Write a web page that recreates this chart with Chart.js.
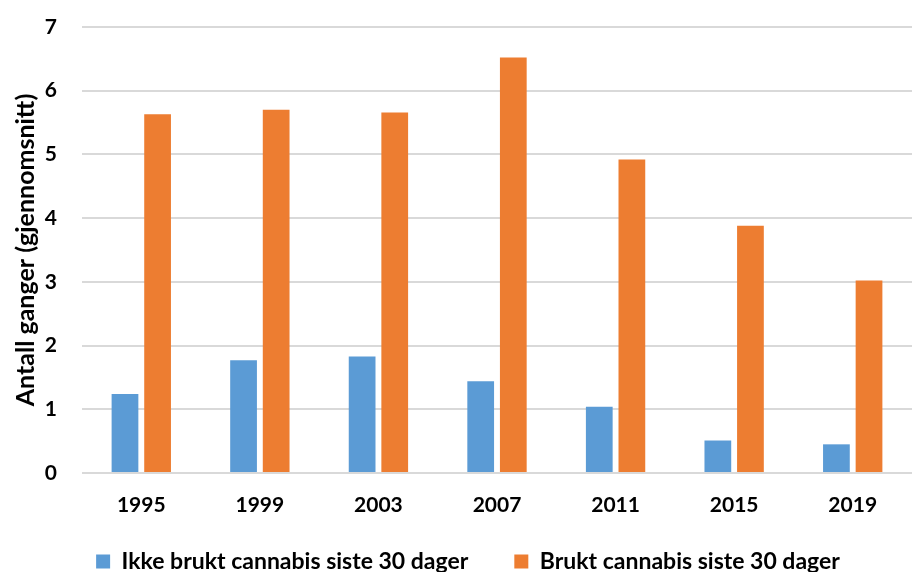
<!DOCTYPE html>
<html>
<head>
<meta charset="utf-8">
<script src="https://cdn.jsdelivr.net/npm/chart.js@4"></script>
<style>
  html, body { margin: 0; padding: 0; background: #fff; }
  #wrap { width: 912px; height: 572px; }
</style>
</head>
<body>
<div id="wrap"><canvas id="myChart"></canvas></div>
<script>
// data
const years = ["1995", "1999", "2003", "2007", "2011", "2015", "2019"];
const ikkeBrukt = [1.24, 1.77, 1.83, 1.44, 1.04, 0.51, 0.45];
const brukt = [5.63, 5.70, 5.66, 6.52, 4.92, 3.88, 3.02];
const yTicks = [0, 1, 2, 3, 4, 5, 6, 7];

const font = "Lato, 'Open Sans', sans-serif";

// legend labels padding is used both for the gap between items and vertically;
// keep the wide gap but give the legend a small box, then stretch its top up a bit
const legendHeight = {
  id: "legendHeight",
  beforeInit(chart) {
    const legend = chart.legend;
    if (!legend) return;
    const fit = legend.fit;
    legend.fit = function () {
      fit.call(this);
      this.height = 55;
    };
  },
  afterLayout(chart) {
    if (!chart.legend) return;
    chart.legend.top -= 13;
    // the reference legend sits a little right of centre
    chart.legend.left += 12;
    chart.legend.right += 12;
  },
};

const ctx = document.getElementById("myChart").getContext("2d");
const chart = new Chart(ctx, {
  type: "bar",
  data: {
    labels: years,
    datasets: [
      {
        label: "Ikke brukt cannabis siste 30 dager",
        data: ikkeBrukt,
        backgroundColor: "#5B9BD5",
        barPercentage: 0.82,
        categoryPercentage: 0.55,
      },
      {
        label: "Brukt cannabis siste 30 dager",
        data: brukt,
        backgroundColor: "#ED7D31",
        barPercentage: 0.82,
        categoryPercentage: 0.55,
      },
    ],
  },
  plugins: [legendHeight],
  options: {
    responsive: true,
    maintainAspectRatio: false,
    animation: false,
    layout: { padding: 0 },
    plugins: {
      legend: {
        position: "bottom",
        labels: {
          color: "#000",
          font: { family: font, size: 23, weight: "bold" },
          boxWidth: 14,
          boxHeight: 14,
          padding: 46,
        },
      },
      tooltip: { enabled: false },
    },
    scales: {
      y: {
        min: 0,
        max: 7,
        afterBuildTicks: (axis) => {
          axis.ticks = yTicks.map((v) => ({ value: v }));
        },
        afterFit: (scale) => {
          scale.width = 82;
          scale.paddingTop = 27;
          scale.paddingBottom = 0;
        },
        border: { display: false },
        grid: { color: "#D9D9D9", lineWidth: 2, drawTicks: false },
        ticks: {
          color: "#000",
          padding: 25,
          font: { family: font, size: 21, weight: "bold" },
        },
        title: {
          display: true,
          text: "Antall ganger (gjennomsnitt)",
          color: "#000",
          font: { family: font, size: 25, weight: "bold" },
          padding: { top: 11, bottom: 0 },
        },
      },
      x: {
        afterFit: (scale) => {
          scale.height = 44;
        },
        border: { display: false },
        grid: { display: false, drawTicks: false },
        ticks: {
          color: "#000",
          padding: 20,
          font: { family: font, size: 21, weight: "bold" },
        },
      },
    },
  },
});
</script>
</body>
</html>
